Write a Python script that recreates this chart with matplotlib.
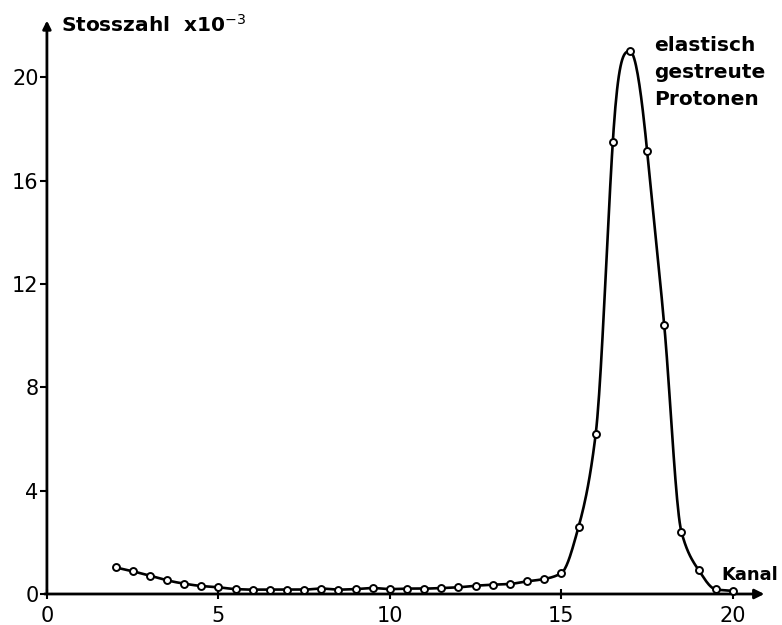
import numpy as np
import matplotlib
matplotlib.use("Agg")
import matplotlib.pyplot as plt

# channel number and counts (x 10^-3)
kanal = [2.0, 2.5, 3.0, 3.5, 4.0, 4.5, 5.0, 5.5, 6.0, 6.5,
         7.0, 7.5, 8.0, 8.5, 9.0, 9.5, 10.0, 10.5, 11.0, 11.5,
         12.0, 12.5, 13.0, 13.5, 14.0, 14.5, 15.0, 15.5, 16.0, 16.5,
         17.0, 17.5, 18.0, 18.5, 19.0, 19.5, 20.0]
stosszahl = [1.03, 0.88, 0.71, 0.53, 0.40, 0.31, 0.26, 0.19, 0.17, 0.17,
             0.17, 0.17, 0.21, 0.17, 0.19, 0.23, 0.19, 0.21, 0.21, 0.23,
             0.26, 0.32, 0.36, 0.39, 0.49, 0.58, 0.81, 2.59, 6.18, 17.5,
             21.0, 17.15, 10.4, 2.41, 0.93, 0.18, 0.12]

x_ticks = [0, 5, 10, 15, 20]
y_ticks = [0, 4, 8, 12, 16, 20]


def smooth_curve(x, y, n=20):
    # monotone cubic through the measured points, rounded over the peak
    x = np.asarray(x, float)
    y = np.asarray(y, float)
    h = np.diff(x)
    d = np.diff(y) / h
    m = np.zeros_like(y)
    for i in range(1, len(x) - 1):
        if d[i - 1] * d[i] > 0:
            w1 = 2 * h[i] + h[i - 1]
            w2 = h[i] + 2 * h[i - 1]
            m[i] = (w1 + w2) / (w1 / d[i - 1] + w2 / d[i])
    m[0] = d[0]
    m[-1] = d[-1]
    # keep the flanks steep right up to the rounded top
    k = int(np.argmax(y))
    m[k - 1] = np.sign(d[k - 2]) * min(abs(d[k - 2]), 3 * abs(d[k - 1]))
    m[k + 1] = np.sign(d[k + 1]) * min(abs(d[k + 1]), 3 * abs(d[k]))
    xs, ys = [], []
    for i in range(len(x) - 1):
        t = np.linspace(0, 1, n, endpoint=False)
        h00 = 2 * t**3 - 3 * t**2 + 1
        h10 = t**3 - 2 * t**2 + t
        h01 = -2 * t**3 + 3 * t**2
        h11 = t**3 - t**2
        xs.append(x[i] + t * h[i])
        ys.append(h00 * y[i] + h10 * h[i] * m[i] + h01 * y[i + 1] + h11 * h[i] * m[i + 1])
    xs.append([x[-1]])
    ys.append([y[-1]])
    return np.concatenate(xs), np.concatenate(ys)


plt.rcParams['font.family'] = ['DejaVu Sans']

fig = plt.figure(figsize=(7.82, 6.25), dpi=100)
ax = fig.add_axes([0.060, 0.0496, 0.921, 0.922])
ax.set_xlim(0, 21.0)
ax.set_ylim(0, 22.3)

for s in ax.spines.values():
    s.set_visible(False)

# axes with arrow heads
ax.annotate('', xy=(21.0, 0), xytext=(-0.15, 0),
            arrowprops=dict(arrowstyle='-|>', color='black', lw=2,
                            mutation_scale=14), annotation_clip=False)
ax.annotate('', xy=(0, 22.3), xytext=(0, -0.05),
            arrowprops=dict(arrowstyle='-|>', color='black', lw=2,
                            mutation_scale=12), annotation_clip=False)

xs, ys = smooth_curve(kanal, stosszahl)
ax.plot(xs, ys, color='black', lw=1.9, clip_on=False, zorder=3)
ax.plot(kanal, stosszahl, linestyle='none', marker='o', markersize=5,
        markerfacecolor='white', markeredgecolor='black', markeredgewidth=1.4,
        clip_on=False, zorder=4)

ax.set_xticks(x_ticks)
ax.set_yticks(y_ticks)
ax.set_xticklabels([str(v) for v in x_ticks])
ax.set_yticklabels([str(v) for v in y_ticks])
ax.tick_params(axis='x', direction='inout', length=7, width=1.5, pad=5, labelsize=15)
ax.tick_params(axis='y', direction='out', length=5, width=1.5, pad=1, labelsize=15)
for lab in ax.get_xticklabels() + ax.get_yticklabels():
    lab.set_fontweight('medium')

txt = dict(fontsize=14.5, weight='bold')
ax.text(0.42, 21.74, 'Stosszahl  x10$^{-3}$', ha='left', va='baseline', **txt)
ax.text(17.7, 21.6, 'elastisch\ngestreute\nProtonen', ha='left', va='top',
        linespacing=1.55, **txt)
ax.text(19.68, 0.55, 'Kanal', ha='left', va='baseline', fontsize=13, weight='bold')

fig.savefig('out.png', dpi=100)
